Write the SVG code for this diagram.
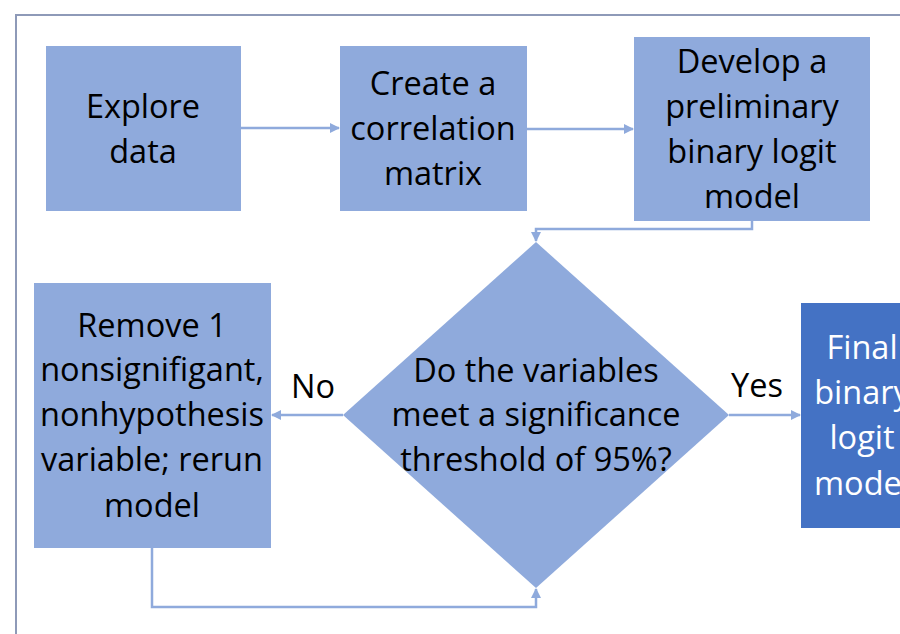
<svg xmlns="http://www.w3.org/2000/svg" width="900" height="634" viewBox="0 0 900 634">
  <style>
    .box { fill: #8FAADC; }
    .final { fill: #4472C4; }
    .lbl { font-family: "Open Sans", "Liberation Sans", sans-serif; font-size: 32.5px; fill: #000; text-anchor: middle; }
    .wlbl { font-family: "Open Sans", "Liberation Sans", sans-serif; font-size: 32.5px; fill: #fff; text-anchor: middle; }
    .edge { fill: none; stroke: #8FAADC; stroke-width: 2.5; }
  </style>
  <defs>
    <marker id="arrow" viewBox="0 0 10 10" refX="9" refY="5" markerWidth="4" markerHeight="4" orient="auto">
      <path d="M0,0 L10,5 L0,10 z" fill="#8FAADC"/>
    </marker>
  </defs>
  <rect width="900" height="634" fill="#fff"/>
  <!-- outer frame -->
  <path d="M16,634 L16,15 L900,15" fill="none" stroke="#8E9AB8" stroke-width="2"/>

  <g id="connectors">
    <path class="edge" d="M241,128 L339,128" marker-end="url(#arrow)"/>
    <path class="edge" d="M527,129 L633,129" marker-end="url(#arrow)"/>
    <path class="edge" d="M752,221 L752,229 L536,229 L536,241" marker-end="url(#arrow)"/>
    <path class="edge" d="M343,415 L272,415" marker-end="url(#arrow)"/>
    <path class="edge" d="M729,415 L800,415" marker-end="url(#arrow)"/>
    <path class="edge" d="M152,548 L152,607 L536,607 L536,589" marker-end="url(#arrow)"/>
  </g>

  <g id="explore">
    <rect class="box" x="46" y="46" width="195" height="165"/>
    <text class="lbl" x="143" y="118">Explore</text>
    <text class="lbl" x="143" y="163">data</text>
  </g>
  <g id="correlation">
    <rect class="box" x="340" y="46" width="187" height="165"/>
    <text class="lbl" x="433" y="95">Create a</text>
    <text class="lbl" x="433" y="140">correlation</text>
    <text class="lbl" x="433" y="185">matrix</text>
  </g>
  <g id="preliminary">
    <rect class="box" x="634" y="37" width="236" height="184"/>
    <text class="lbl" x="752" y="73">Develop a</text>
    <text class="lbl" x="752" y="118">preliminary</text>
    <text class="lbl" x="752" y="163">binary logit</text>
    <text class="lbl" x="752" y="208">model</text>
  </g>
  <g id="decision">
    <polygon class="box" points="536,242 729,415 536,588 343,415"/>
    <text class="lbl" x="536" y="382">Do the variables</text>
    <text class="lbl" x="536" y="426">meet a significance</text>
    <text class="lbl" x="536" y="471">threshold of 95%?</text>
  </g>
  <g id="remove">
    <rect class="box" x="34" y="283" width="237" height="265"/>
    <text class="lbl" x="152" y="337">Remove 1</text>
    <text class="lbl" x="152" y="381">nonsignifigant,</text>
    <text class="lbl" x="152" y="426">nonhypothesis</text>
    <text class="lbl" x="152" y="471">variable; rerun</text>
    <text class="lbl" x="152" y="517">model</text>
  </g>
  <g id="final">
    <rect class="final" x="801" y="303" width="122" height="225"/>
    <text class="wlbl" x="862" y="359">Final</text>
    <text class="wlbl" x="862" y="404">binary</text>
    <text class="wlbl" x="862" y="449">logit</text>
    <text class="wlbl" x="862" y="495">model</text>
  </g>
  <g id="edge-labels">
    <text class="lbl" x="313" y="398">No</text>
    <text class="lbl" x="757" y="397">Yes</text>
  </g>
</svg>
